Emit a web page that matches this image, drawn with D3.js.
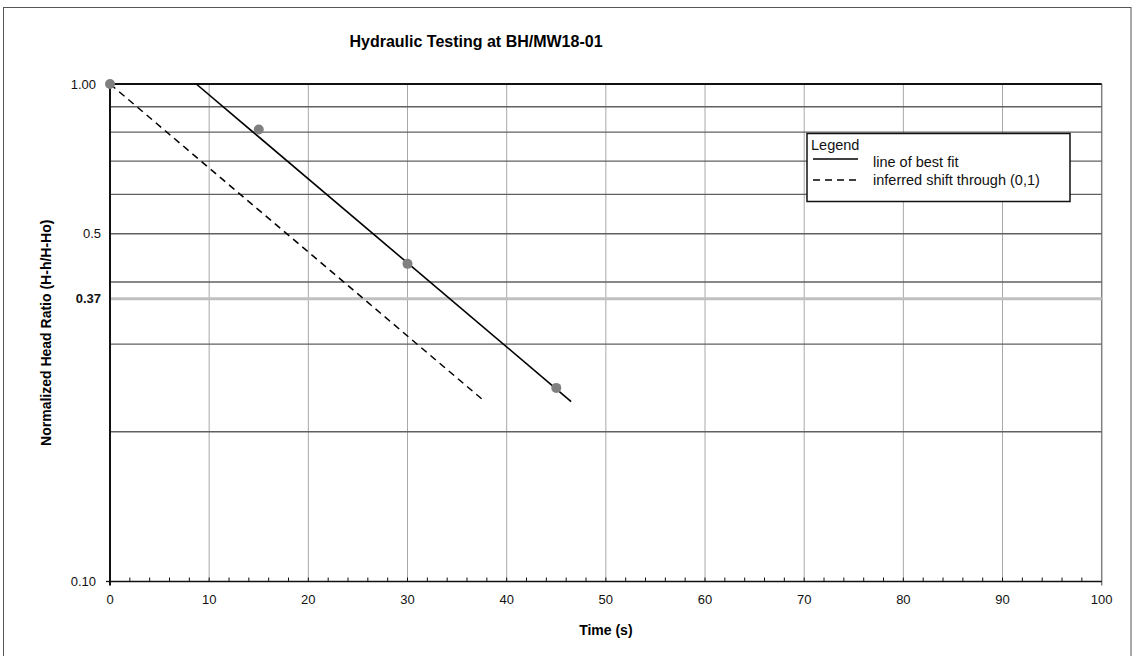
<!DOCTYPE html>
<html>
<head>
<meta charset="utf-8">
<script src="https://cdn.jsdelivr.net/npm/d3@7"></script>
<style>
  html, body { margin: 0; padding: 0; background: #fff; }
  svg { display: block; font-family: "Liberation Sans", Arial, sans-serif; }
</style>
</head>
<body>
<svg id="chart" width="1134" height="656"></svg>
<script>
// Measured head ratios during the test
const obsTime  = [0, 15, 30, 45];
const obsRatio = [1.0, 0.81, 0.435, 0.245];

// Line of best fit and the same line shifted to pass through (0,1)
const fitTime    = [8.7, 46.5];
const fitRatio   = [1.0, 0.23];
const shiftTime  = [0, 37.8];
const shiftRatio = [1.0, 0.23];

// Axis ticks and labels
const xTicks      = [0, 10, 20, 30, 40, 50, 60, 70, 80, 90, 100];
const xMinorTicks = d3.range(0, 101, 2);
const yGridValues = [0.2, 0.3, 0.4, 0.5, 0.6, 0.7, 0.8, 0.9];
const yLabelValues = [1.0, 0.5, 0.37, 0.1];
const yLabelTexts  = ["1.00", "0.5", "0.37", "0.10"];
const refRatio = 0.37;

const svg = d3.select("#chart");

const x = d3.scaleLinear().domain([0, 100]).range([110, 1101.7]);
const y = d3.scaleLog().domain([0.1, 1]).range([581.5, 84]);

// Chart area frame
svg.append("rect")
  .attr("x", 3.5).attr("y", 7.5)
  .attr("width", 1127.5).attr("height", 660)
  .attr("fill", "#fff").attr("stroke", "#555").attr("stroke-width", 1);

// Title
svg.append("text")
  .attr("x", 476).attr("y", 47)
  .attr("text-anchor", "middle")
  .attr("font-size", 16).attr("font-weight", "bold")
  .text("Hydraulic Testing at BH/MW18-01");

const plot = svg.append("g");

// Vertical grid lines
plot.selectAll("line.vgrid")
  .data(xTicks.filter(d => d > 0))
  .join("line")
  .attr("class", "vgrid")
  .attr("x1", d => x(d)).attr("x2", d => x(d))
  .attr("y1", y(1)).attr("y2", d => d === 100 ? y(0.1) + 4 : y(0.1))
  .attr("stroke", d => d === 100 ? "#808080" : "#a8a8a8")
  .attr("stroke-width", d => d === 100 ? 1.5 : 1);

// Horizontal grid lines
plot.selectAll("line.hgrid")
  .data(yGridValues)
  .join("line")
  .attr("class", "hgrid")
  .attr("x1", x(0)).attr("x2", x(100))
  .attr("y1", d => y(d)).attr("y2", d => y(d))
  .attr("stroke", "#606060").attr("stroke-width", 1.3);

// Reference line at 0.37
plot.append("line")
  .attr("x1", x(0)).attr("x2", x(100))
  .attr("y1", y(refRatio)).attr("y2", y(refRatio))
  .attr("stroke", "#c0c0c0").attr("stroke-width", 3);

// Top line at 1.00
plot.append("line")
  .attr("x1", x(0)).attr("x2", x(100))
  .attr("y1", y(1)).attr("y2", y(1))
  .attr("stroke", "#111").attr("stroke-width", 2);

// X axis with minor ticks pointing inward
const xAxis = plot.append("g");
xAxis.append("line")
  .attr("x1", x(0)).attr("x2", x(100))
  .attr("y1", y(0.1)).attr("y2", y(0.1))
  .attr("stroke", "#111").attr("stroke-width", 1.5);
xAxis.selectAll("line.minor")
  .data(xMinorTicks.filter(d => d > 0 && d < 100))
  .join("line")
  .attr("class", "minor")
  .attr("x1", d => x(d)).attr("x2", d => x(d))
  .attr("y1", y(0.1)).attr("y2", y(0.1) - 4)
  .attr("stroke", "#111").attr("stroke-width", 1);
xAxis.selectAll("text")
  .data(xTicks)
  .join("text")
  .attr("x", d => x(d)).attr("y", y(0.1) + 22)
  .attr("text-anchor", "middle")
  .attr("font-size", 13).attr("fill", "#111")
  .text(d => d);

// Y axis
const yAxis = plot.append("g");
yAxis.append("line")
  .attr("x1", x(0)).attr("x2", x(0))
  .attr("y1", y(1) - 1).attr("y2", y(0.1) + 4)
  .attr("stroke", "#111").attr("stroke-width", 2);
yAxis.selectAll("line.tick")
  .data([1, 0.1])
  .join("line")
  .attr("class", "tick")
  .attr("x1", x(0) - 4).attr("x2", x(0))
  .attr("y1", d => y(d)).attr("y2", d => y(d))
  .attr("stroke", "#111").attr("stroke-width", 1.3);
yAxis.selectAll("text")
  .data(yLabelValues)
  .join("text")
  .attr("x", (d, i) => x(0) - (yLabelTexts[i].length === 4 && d !== refRatio ? 14 : 9))
  .attr("y", d => y(d) + 4.5)
  .attr("text-anchor", "end")
  .attr("font-size", 13)
  .attr("font-weight", d => d === refRatio ? "bold" : "normal")
  .attr("fill", "#111")
  .text((d, i) => yLabelTexts[i]);

// Axis titles
svg.append("text")
  .attr("x", x(50)).attr("y", 635)
  .attr("text-anchor", "middle")
  .attr("font-size", 14).attr("font-weight", "bold")
  .text("Time (s)");
svg.append("text")
  .attr("transform", `translate(51,${(y(1) + y(0.1)) / 2}) rotate(-90)`)
  .attr("text-anchor", "middle")
  .attr("font-size", 14).attr("font-weight", "bold")
  .text("Normalized Head Ratio (H-h/H-Ho)");

// Fitted lines
const line = d3.line().x(d => x(d[0])).y(d => y(d[1]));
plot.append("path")
  .datum(d3.zip(fitTime, fitRatio))
  .attr("d", line)
  .attr("fill", "none").attr("stroke", "#000").attr("stroke-width", 1.6);
plot.append("path")
  .datum(d3.zip(shiftTime, shiftRatio))
  .attr("d", line)
  .attr("fill", "none").attr("stroke", "#000").attr("stroke-width", 1.5)
  .attr("stroke-dasharray", "7,5");

// Observations
plot.selectAll("circle.obs")
  .data(d3.zip(obsTime, obsRatio))
  .join("circle")
  .attr("class", "obs")
  .attr("cx", d => x(d[0])).attr("cy", d => y(d[1]))
  .attr("r", 5)
  .attr("fill", "#808080");

// Legend box
const lg = svg.append("g").attr("transform", "translate(807,133.5)");
lg.append("rect")
  .attr("width", 263).attr("height", 68)
  .attr("fill", "#fff").attr("stroke", "#111").attr("stroke-width", 1.5);
lg.append("text")
  .attr("x", 4).attr("y", 16.5)
  .attr("font-size", 14.5).attr("fill", "#111")
  .text("Legend");
lg.append("line")
  .attr("x1", 6).attr("x2", 51).attr("y1", 25.5).attr("y2", 25.5)
  .attr("stroke", "#000").attr("stroke-width", 1.6);
lg.append("text")
  .attr("x", 66).attr("y", 33)
  .attr("font-size", 14.5).attr("fill", "#111")
  .text("line of best fit");
lg.append("line")
  .attr("x1", 6).attr("x2", 51).attr("y1", 46.5).attr("y2", 46.5)
  .attr("stroke", "#000").attr("stroke-width", 1.5)
  .attr("stroke-dasharray", "7,5");
lg.append("text")
  .attr("x", 66).attr("y", 51)
  .attr("font-size", 14.5).attr("fill", "#111")
  .text("inferred shift through (0,1)");
</script>
</body>
</html>
